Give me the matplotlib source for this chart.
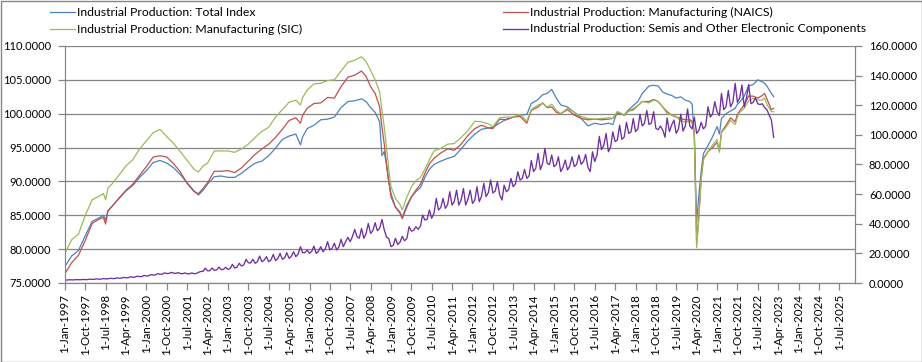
import pandas as pd
import matplotlib
matplotlib.use("Agg")
import matplotlib.pyplot as plt
from matplotlib.lines import Line2D
from matplotlib.patches import Rectangle
from matplotlib.ticker import FormatStrFormatter

plt.rcParams['font.family'] = ['Lato', 'DejaVu Sans']

# --- data (index values) ---
smooth_dates = [
    "1997-01", "1997-04", "1997-07", "1997-10", "1998-01", "1998-04", "1998-06", "1998-07",
    "1998-08", "1998-10", "1999-01", "1999-04", "1999-07", "1999-10", "2000-01", "2000-04",
    "2000-07", "2000-10", "2001-01", "2001-04", "2001-07", "2001-10", "2001-12", "2002-02",
    "2002-04", "2002-07", "2002-10", "2003-01", "2003-04", "2003-07", "2003-10", "2004-01",
    "2004-04", "2004-07", "2004-10", "2005-01", "2005-04", "2005-07", "2005-09", "2005-10",
    "2005-12", "2006-03", "2006-06", "2006-09", "2006-12", "2007-03", "2007-06", "2007-09",
    "2007-12", "2008-02", "2008-04", "2008-06", "2008-08", "2008-09", "2008-10", "2008-11",
    "2008-12", "2009-01", "2009-03", "2009-05", "2009-06", "2009-08", "2009-10", "2009-12",
    "2010-02", "2010-04", "2010-06", "2010-08", "2010-11", "2011-02", "2011-05", "2011-08",
    "2011-11", "2012-02", "2012-05", "2012-08", "2012-10", "2013-01", "2013-04", "2013-07",
    "2013-10", "2014-01", "2014-03", "2014-06", "2014-08", "2014-10", "2014-12", "2015-02",
    "2015-04", "2015-07", "2015-10", "2016-01", "2016-04", "2016-07", "2016-10", "2017-01",
    "2017-03", "2017-05", "2017-08", "2017-10", "2017-12", "2018-02", "2018-04", "2018-07",
    "2018-09", "2018-11", "2019-01", "2019-03", "2019-05", "2019-07", "2019-09", "2019-11",
    "2020-01", "2020-02", "2020-03", "2020-04", "2020-05", "2020-06", "2020-07", "2020-09",
    "2020-11", "2021-01", "2021-02", "2021-03", "2021-05", "2021-07", "2021-09", "2021-10",
    "2021-11", "2022-01", "2022-03", "2022-05", "2022-07", "2022-09", "2022-10", "2022-11",
    "2023-01", "2023-02",
]

total_index = [
    77.45, 79.0, 79.8, 82.0, 84.1, 84.6, 85.0, 84.3,
    85.7, 86.4, 87.5, 88.6, 89.4, 90.6, 91.6, 92.8,
    93.1, 92.7, 92.0, 91.0, 89.8, 88.6, 88.0, 88.7,
    89.6, 90.7, 90.8, 90.6, 90.6, 91.2, 92.0, 92.7,
    93.0, 93.8, 94.9, 96.2, 96.7, 97.0, 95.4, 96.6,
    97.8, 98.3, 99.1, 99.2, 99.5, 100.9, 101.8, 101.9,
    102.2, 101.8, 100.9, 100.2, 98.8, 93.8, 94.4, 92.5,
    90.0, 88.2, 86.2, 85.5, 84.7, 86.5, 87.7, 88.5,
    89.1, 90.6, 91.8, 92.5, 93.0, 93.4, 93.7, 94.8,
    96.0, 97.0, 97.7, 97.9, 98.0, 98.6, 99.2, 99.5,
    99.8, 99.9, 101.5, 102.1, 102.8, 103.0, 103.6, 102.3,
    101.3, 101.0, 100.2, 99.3, 98.2, 98.6, 98.4, 98.6,
    98.4, 100.3, 99.8, 100.6, 101.2, 101.8, 103.0, 104.1,
    104.2, 104.1, 103.2, 102.9, 102.7, 102.3, 102.5, 102.0,
    101.8, 101.4, 96.5, 84.0, 88.0, 91.5, 94.1, 95.3,
    96.6, 98.1, 97.0, 99.3, 100.0, 100.4, 100.8, 101.4,
    101.7, 102.6, 104.1, 104.3, 105.0, 104.7, 104.5, 104.1,
    103.0, 102.5,
]

mfg_naics = [
    76.4, 78.0, 79.1, 81.3, 83.8, 84.4, 84.7, 83.7,
    85.6, 86.4, 87.6, 88.7, 89.6, 90.9, 92.2, 93.6,
    93.8, 93.6, 92.6, 91.4, 89.7, 88.5, 88.2, 89.0,
    89.8, 91.5, 91.5, 91.6, 91.3, 92.0, 93.0, 94.0,
    94.8, 95.5, 96.5, 97.7, 99.0, 99.4, 98.6, 99.8,
    100.8, 101.5, 101.6, 102.4, 102.3, 104.0, 105.4, 105.7,
    106.3, 105.5, 104.0, 103.0, 101.0, 98.0, 95.6, 92.5,
    90.0, 87.7, 86.2, 85.3, 84.5, 86.2, 87.7, 88.7,
    89.6, 91.2, 92.6, 93.4, 94.2, 94.8, 94.6, 95.5,
    96.8, 97.8, 98.3, 97.9, 97.8, 99.2, 99.1, 99.5,
    99.6, 98.6, 100.5, 101.0, 101.6, 100.9, 101.0, 100.2,
    100.0, 100.6, 99.8, 99.3, 99.1, 99.2, 99.1, 99.2,
    99.3, 100.1, 99.8, 100.4, 100.7, 101.2, 101.8, 101.8,
    102.1, 101.8, 101.0, 100.3, 99.8, 99.5, 99.3, 99.1,
    99.1, 98.9, 97.3, 80.8, 85.0, 90.5, 93.4, 94.4,
    95.0, 95.8, 94.5, 97.3, 98.3, 99.4, 98.8, 99.9,
    100.4, 101.3, 102.6, 102.6, 102.3, 102.7, 103.0, 102.2,
    100.6, 100.8,
]

mfg_sic = [
    79.4, 81.4, 82.2, 85.0, 87.3, 87.8, 88.2, 87.3,
    89.0, 89.7, 91.0, 92.3, 93.2, 94.8, 96.0, 97.2,
    97.7, 96.6, 95.6, 94.4, 93.1, 91.8, 91.4, 92.3,
    92.7, 94.5, 94.5, 94.5, 94.3, 94.8, 95.5, 96.5,
    97.4, 98.0, 99.5, 100.6, 101.7, 102.0, 101.3, 102.4,
    103.5, 104.4, 104.5, 104.9, 105.0, 106.3, 107.6, 107.9,
    108.4, 107.7, 106.4, 105.0, 103.2, 100.5, 98.1, 95.0,
    91.8, 89.2, 87.5, 86.6, 85.8, 87.7, 89.2, 90.1,
    90.6, 91.8, 93.2, 94.5, 94.9, 95.5, 95.6, 96.5,
    97.5, 98.9, 98.8, 98.5, 98.1, 99.4, 99.5, 99.5,
    99.9, 98.9, 100.6, 101.3, 101.5, 101.0, 101.4, 100.5,
    100.0, 100.8, 100.2, 99.6, 99.3, 99.2, 99.3, 99.4,
    99.3, 100.3, 99.8, 100.4, 100.5, 101.2, 101.8, 101.6,
    102.0, 101.8, 101.0, 100.0, 99.8, 99.6, 98.9, 98.8,
    98.8, 98.7, 97.1, 80.2, 84.5, 90.3, 93.2, 94.4,
    95.4, 96.2, 94.3, 97.2, 98.0, 99.0, 98.4, 99.5,
    100.2, 100.8, 101.9, 102.3, 102.0, 102.0, 102.3, 101.4,
    100.3, 100.3,
]

# semis: monthly from Jan 1997 (right axis)
semis_start = "1997-01"
semis = [
    2.0, 2.0, 2.2, 2.1, 2.1, 2.3, 2.2, 2.2, 2.4, 2.3, 2.3, 2.6,
    2.4, 2.5, 2.8, 2.6, 2.6, 3.0, 2.8, 2.8, 3.2, 3.0, 3.0, 3.5,
    3.2, 3.3, 3.8, 3.5, 3.6, 4.2, 3.9, 4.0, 4.6, 4.3, 4.4, 5.1,
    4.7, 4.9, 5.7, 5.3, 5.5, 6.3, 5.9, 6.0, 6.8, 6.4, 6.5, 7.2,
    6.6, 6.5, 7.0, 6.4, 6.3, 6.8, 6.2, 6.2, 6.8, 6.3, 6.4, 7.2,
    7.8, 7.9, 10.0, 8.2, 8.3, 10.1, 8.6, 8.8, 10.8, 9.0, 9.2, 10.6,
    9.2, 9.8, 12.6, 10.1, 10.6, 13.3, 11.5, 12.2, 16.0, 13.7, 13.5, 16.0,
    13.3, 14.4, 18.2, 14.4, 15.4, 17.8, 14.4, 15.6, 19.3, 15.1, 16.5, 20.0,
    16.0, 17.0, 20.5, 16.7, 18.0, 21.1, 17.8, 19.5, 24.5, 20.5, 20.5, 22.3,
    20.0, 21.5, 24.9, 20.0, 21.5, 24.5, 21.1, 23.0, 27.9, 22.3, 23.5, 26.8,
    22.3, 24.5, 29.5, 24.5, 27.9, 30.8, 27.9, 31.3, 36.2, 31.3, 30.2, 36.8,
    30.2, 33.5, 40.2, 33.5, 35.3, 40.7, 35.3, 37.0, 42.9, 36.0, 31.0, 30.0,
    24.5, 25.5, 30.2, 26.0, 27.5, 31.5, 28.5, 30.0, 38.0, 35.0, 35.5, 38.0,
    36.2, 38.5, 45.9, 42.5, 43.0, 49.3, 43.7, 47.0, 57.1, 49.3, 51.0, 57.1,
    50.4, 53.0, 61.6, 52.6, 55.0, 62.7, 52.6, 56.0, 63.8, 52.6, 56.5, 62.7,
    53.7, 56.0, 65.0, 54.9, 58.5, 67.3, 58.3, 61.0, 69.5, 60.8, 62.0, 68.4,
    59.4, 56.0, 66.1, 61.6, 63.0, 70.6, 65.0, 67.0, 75.1, 69.5, 70.6, 76.7,
    70.6, 72.5, 82.7, 75.2, 77.5, 87.5, 76.5, 80.8, 90.9, 80.8, 80.0, 86.4,
    78.5, 80.0, 85.2, 75.2, 78.0, 83.0, 76.3, 79.0, 85.2, 78.5, 80.1, 86.4,
    80.1, 82.0, 86.8, 78.0, 75.2, 88.6, 82.0, 86.4, 99.0, 90.0, 93.2, 101.0,
    88.6, 92.0, 102.0, 95.5, 96.5, 106.5, 97.0, 98.5, 108.5, 101.0, 102.0, 111.0,
    102.2, 104.0, 114.0, 106.0, 107.8, 116.5, 107.0, 108.0, 115.6, 104.4, 103.5, 106.0,
    103.3, 98.4, 111.5, 102.2, 106.6, 110.0, 101.0, 104.0, 114.0, 102.5, 106.0, 117.5,
    106.0, 104.0, 112.0, 101.0, 103.0, 108.5, 104.0, 106.0, 119.0, 112.0, 114.0, 122.4,
    115.6, 113.0, 128.0, 117.0, 119.0, 130.0, 119.0, 122.0, 134.8, 122.0, 125.0, 133.7,
    119.0, 125.0, 134.0, 121.0, 122.0, 125.0, 121.0, 120.5, 121.0, 118.5, 117.0, 113.5,
    110.0, 98.3,
]

labels = [
    "Industrial Production: Total Index",
    "Industrial Production: Manufacturing (NAICS)",
    "Industrial Production: Manufacturing (SIC)",
    "Industrial Production: Semis and Other Electronic Components",
]
colors = ["#4F81BD", "#C0504D", "#9BBB59", "#7030A0"]
widths = [0.9, 0.9, 0.9, 0.95]

x_smooth = pd.to_datetime(smooth_dates)
x_semis = pd.date_range(semis_start, periods=len(semis), freq="MS")
tick_dates = pd.date_range("1997-01-01", "2025-07-01", freq="9MS")

W, H = 922, 362
grey = "#868686"
fig = plt.figure(figsize=(W / 100, H / 100), dpi=100)
ax = fig.add_axes([65 / W, 1 - 283 / H, 790 / W, 237 / H])
ax2 = ax.twinx()

ax.plot(x_smooth, total_index, color=colors[0], lw=widths[0])
ax.plot(x_smooth, mfg_naics, color=colors[1], lw=widths[1])
ax.plot(x_smooth, mfg_sic, color=colors[2], lw=widths[2])
ax2.plot(x_semis, semis, color=colors[3], lw=widths[3])

ax.set_xlim(pd.Timestamp("1997-01-01"), pd.Timestamp("2026-01-29"))
ax.set_ylim(75, 110)
ax.set_yticks(range(75, 111, 5))
ax.yaxis.set_major_formatter(FormatStrFormatter("%.4f"))
ax2.set_ylim(0, 160)
ax2.set_yticks(range(0, 161, 20))
ax2.yaxis.set_major_formatter(FormatStrFormatter("%.4f"))

ax.set_xticks(tick_dates)
ax.set_xticklabels([f"{d.day}-{d:%b-%Y}" for d in tick_dates], rotation=90)

ax.yaxis.grid(True, color=grey, lw=0.9)
ax.set_axisbelow(True)
for a in (ax, ax2):
    a.spines["top"].set_visible(False)
    for s in ("left", "right", "bottom"):
        a.spines[s].set_color(grey)
    a.tick_params(colors=grey, labelcolor="black", labelsize=8, length=5, width=0.9)
ax.tick_params(axis="y", pad=5)
ax2.tick_params(axis="y", pad=5)
ax.tick_params(axis="x", pad=3, labelsize=8.3)

# legend drawn at the top like the spreadsheet one
rows = [1 - 12 / H, 1 - 29 / H]
cols = [50 / W, 503 / W]
pos = [(0, 0), (1, 0), (0, 1), (1, 1)]
for (c, r), lab, col, lw in zip(pos, labels, colors, widths):
    fig.add_artist(Line2D([cols[c], cols[c] + 25 / W], [rows[r], rows[r]],
                          color=col, lw=lw, transform=fig.transFigure))
    fig.text(cols[c] + 27 / W, rows[r], lab, fontsize=8.8, va="center", ha="left")

fig.add_artist(Rectangle((0.5 / W, 0.5 / H), 1 - 1 / W, 1 - 1 / H, fill=False,
                         edgecolor=grey, lw=1, transform=fig.transFigure))

fig.savefig("out.png", dpi=100)
